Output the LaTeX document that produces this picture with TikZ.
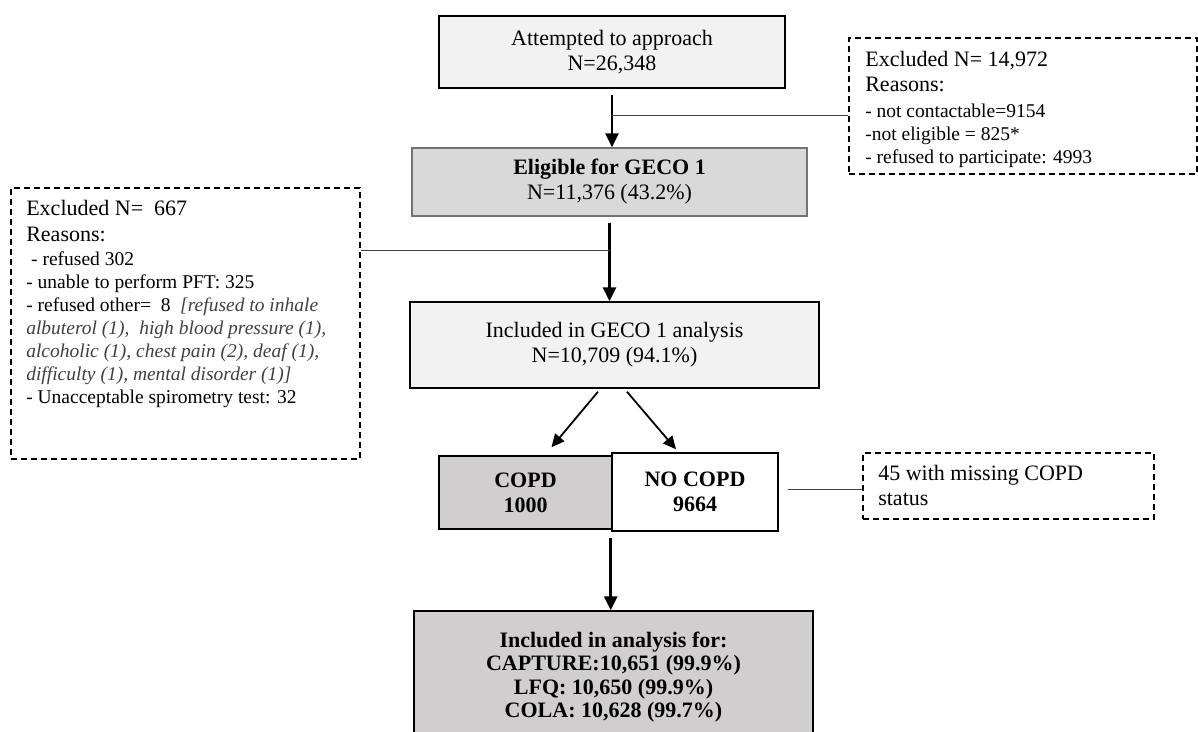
\documentclass[tikz,border=0pt]{standalone}
\usepackage{fontspec}
\setmainfont{Liberation Serif}
\usepackage{tikz}
\usetikzlibrary{arrows.meta,positioning}
\definecolor{boxlight}{HTML}{F2F2F2}
\definecolor{boxmid}{HTML}{D9D9D9}
\definecolor{boxdark}{HTML}{D0CECE}
\definecolor{itgray}{HTML}{404040}
\newcommand{\bigtxt}{\fontsize{22}{25}\selectfont}
\newcommand{\smalltxt}{\fontsize{19.5}{23}\selectfont}

\begin{document}
\begin{tikzpicture}[
        x=1pt, y=-1pt,
        font=\bigtxt,
        box/.style={draw, inner sep=0pt, align=center},
        dbox/.style={draw, dash pattern=on 6pt off 4pt, line width=1.8pt, inner sep=0pt},
        note/.style={inner sep=0pt, align=left},
        flow/.style={line width=2.6pt, -{Triangle[width=13pt,length=14pt]}},
        split/.style={line width=1.8pt, -{Triangle[width=12pt,length=13pt]}},
        link/.style={line width=0.9pt, draw=black!75}
    ]
        \useasboundingbox (0,0) rectangle (1198,731);

        \node[box, fill=boxlight, line width=2.4pt, minimum width=346, minimum height=72] (attempt) at (612,52) {Attempted to approach\\N=26,348};
        \node[box, fill=boxmid, draw=black!55, line width=1.4pt, minimum width=395, minimum height=68] (eligible) at (609.5,182) {\textbf{Eligible for GECO 1}\\N=11,376 (43.2\%)};
        \node[box, fill=boxlight, line width=1.5pt, minimum width=409, minimum height=86] (included) at (614.5,345) {Included in GECO 1 analysis\\N=10,709 (94.1\%)};
        \node[box, fill=boxdark, line width=1.5pt, minimum width=173, minimum height=73, font=\bigtxt\bfseries] (copd) at (525.5,492.5) {COPD\\1000};
        \node[box, fill=white, line width=1.5pt, minimum width=166, minimum height=78, font=\bigtxt\bfseries] (nocopd) at (695,492) {NO COPD\\9664};
        \node[box, fill=boxdark, line width=1.5pt, minimum width=399, minimum height=132, font=\fontsize{22}{23.5}\selectfont\bfseries] (final) at (613.5,677) {Included in analysis for:\\CAPTURE:10,651 (99.9\%)\\LFQ: 10,650 (99.9\%)\\COLA: 10,628 (99.7\%)};

        \node[dbox, minimum width=348, minimum height=136] (exclA) at (1023,106) {};
        \node[note, font=\smalltxt, below right=14pt and 17pt of exclA.north west] (exclAtxt) {\bigtxt Excluded N= 14,972\\[2pt]\bigtxt Reasons:\\[3pt]- not contactable=9154\\-not eligible = 825*\\- refused to participate: 4993};

        \node[dbox, minimum width=349, minimum height=271] (exclB) at (185.5,323.5) {};
        \node[note, font=\smalltxt, below right=13pt and 16pt of exclB.north west] (exclBtxt) {\bigtxt Excluded N=\ \ 667\\[3pt]\bigtxt Reasons:\\[1pt]\ - refused 302\\- unable to perform PFT: 325\\- refused other=\ \ 8\ \ {\itshape\color{itgray}[refused to inhale}\\{\itshape\color{itgray}albuterol (1),\ \ high blood pressure (1),}\\{\itshape\color{itgray}alcoholic (1), chest pain (2), deaf (1),}\\{\itshape\color{itgray}difficulty (1), mental disorder (1)]}\\- Unacceptable spirometry test: 32};

        \node[dbox, minimum width=291, minimum height=66] (missing) at (1008.5,486) {};
        \node[note, below right=13pt and 16pt of missing.north west] (missingtxt) {45 with missing COPD\\status};

        \draw[flow] ([yshift=-6pt]attempt.south) -- (attempt.south |- eligible.north);
        \coordinate (j1) at (attempt.south |- 0,115);
        \draw[link] (j1) -- (j1 -| exclA.west);

        \draw[flow] ([yshift=-6pt]eligible.south) -- (eligible.south |- included.north);
        \coordinate (j2) at (eligible.south |- 0,250);
        \draw[link] (j2) -- (j2 -| exclB.east);

        \draw[split] ([xshift=-16.5pt,yshift=-3pt]included.south) -- ([xshift=26pt,yshift=8pt]copd.north);
        \draw[split] ([xshift=12.5pt,yshift=-3pt]included.south) -- ([xshift=-19pt,yshift=3pt]nocopd.north);

        \coordinate (j3) at ([xshift=9pt,yshift=3pt]nocopd.east);
        \draw[link] (j3) -- (j3 -| missing.west);

        \coordinate (j4) at ([xshift=-2pt,yshift=-8pt]copd.south east);
        \draw[flow] (j4) -- (j4 |- final.north);
    \end{tikzpicture}
\end{document}
